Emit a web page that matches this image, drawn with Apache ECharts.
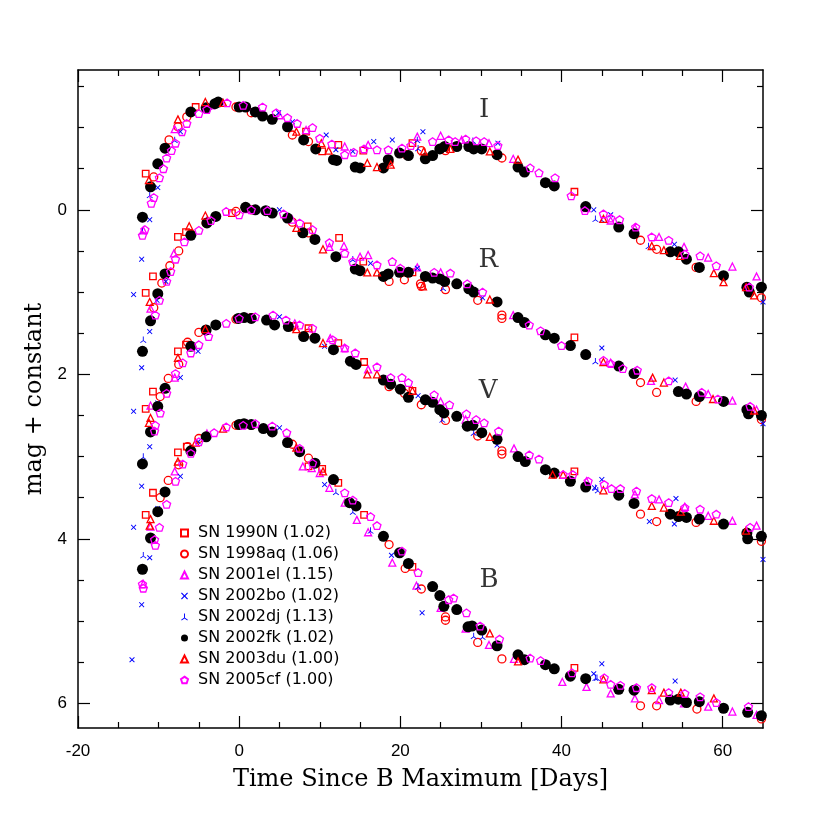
<!DOCTYPE html>
<html>
<head>
<meta charset="utf-8">
<script src="https://cdn.jsdelivr.net/npm/echarts@6/dist/echarts.min.js"></script>
<style>
html, body { margin: 0; padding: 0; background: #fff; }
#chart { width: 830px; height: 830px; }
</style>
</head>
<body>
<div id="chart"></div>
<script>
// [days since B max, mag + constant]
var sn1990N_I = [[-11.6,-0.44],[-5.4,-1.25],[8.3,-0.95],[10.3,-0.71],[12.3,-0.79],[15.4,-0.72],[21.5,-0.81],[41.6,-0.22]];
var sn1990N_R = [[-11.6,1.01],[-10.7,0.81],[-7.6,0.33],[-6.6,0.27],[-0.9,0.04],[8.5,0.2],[12.4,0.34],[15.4,0.63],[21.5,0.76],[41.6,1.55]];
var sn1990N_V = [[-11.6,2.42],[-10.7,2.21],[-7.6,1.72],[-6.6,1.64],[6.6,1.41],[8.6,1.44],[12.3,1.62],[15.5,1.85],[21.5,2.2],[41.6,3.18]];
var sn1990N_B = [[-11.6,3.71],[-10.7,3.44],[-7.6,2.95],[-6.5,2.88],[8.6,3.12],[10.3,3.15],[12.3,3.32],[15.5,3.71],[21.5,4.34],[41.6,5.57]];

var sn1998aq_I = [[-10.6,-0.4],[-8.7,-0.85],[-7.6,-1.01],[-6.5,-1.13],[-0.4,-1.25],[1.5,-1.18],[6.6,-0.91],[8.6,-0.83],[18.6,-0.58],[20.7,-0.67],[22.6,-0.72],[25.6,-0.72],[32.6,-0.63],[49.8,0.37],[51.8,0.48],[56.7,0.70],[64.8,1.07]];
var sn1998aq_R = [[-10.6,1.19],[-9.6,0.89],[-8.6,0.68],[-7.5,0.5],[-6,0.29],[-4.1,0.16],[-0.4,0.02],[1.5,0.0],[6.6,0.15],[8.6,0.28],[18.6,0.87],[20.5,0.85],[22.5,0.9],[22.6,0.93],[25.6,0.97],[29.6,1.1],[32.6,1.28],[32.6,1.32],[49.8,2.10],[51.8,2.22],[56.7,2.33],[64.8,2.55]];
var sn1998aq_V = [[-9.8,2.27],[-8.8,2.05],[-7.5,1.88],[-6.4,1.61],[-5,1.49],[-0.4,1.33],[1.5,1.31],[6.6,1.42],[8.6,1.5],[18.6,2.15],[20.5,2.23],[22.6,2.37],[25.6,2.56],[29.6,2.75],[32.6,2.93],[32.6,2.97],[49.8,3.70],[51.8,3.79],[56.7,3.80],[64.8,4.03]];
var sn1998aq_B = [[-9.8,3.5],[-8.8,3.29],[-7.5,3.1],[-6.4,2.88],[-5,2.78],[-0.4,2.62],[1.5,2.62],[6.6,2.85],[8.6,3.02],[18.6,4.07],[20.6,4.36],[22.6,4.61],[25.6,4.95],[25.6,4.99],[29.6,5.26],[32.6,5.46],[49.8,6.03],[51.8,6.03],[56.8,6.07],[64.8,6.19]];

var sn2001el_I = [[-11.9,0.25],[-8,-0.98],[-3.5,-1.27],[1,-1.25],[5,-1.15],[8.3,-0.97],[13.1,-0.77],[16,-0.79],[22.1,-0.89],[25,-0.9],[27.6,-0.85],[31,-0.81],[34,-0.62],[43.1,-0.02],[46.1,0.13],[49.1,0.22],[52.1,0.33],[55.2,0.45],[58.2,0.58],[61.2,0.69],[64.2,0.81]];
var sn2001el_R = [[-11,1.2],[-8.1,0.53],[-4,0.13],[1,-0.01],[6.6,0.12],[11.2,0.45],[13,0.44],[15,0.57],[16,0.55],[22.1,0.7],[25,0.76],[34,1.28],[43.1,1.75],[46.1,1.86],[49.1,1.97],[51.1,2.08],[55.4,2.15],[58.2,2.24],[61.2,2.32],[64.2,2.43]];
var sn2001el_V = [[-11,2.38],[-8,2.04],[-4,1.47],[1,1.31],[6.9,1.38],[11.3,1.56],[13.1,1.68],[16,1.94],[25,2.33],[28.1,2.55],[34.1,2.9],[43.1,3.30],[49.1,3.46],[52.1,3.52],[55.3,3.61],[58.2,3.72],[61.2,3.78],[64.2,3.84]];
var sn2001el_B = [[-11.9,4.55],[-11,3.85],[-8,3.18],[-4,2.72],[1,2.6],[7.9,3.12],[9,3.14],[10,3.2],[11.2,3.38],[13.1,3.56],[14.6,3.77],[16,3.92],[19,4.29],[22,4.57],[25,4.84],[28.1,5.09],[31,5.29],[34.1,5.46],[40.1,5.74],[43.1,5.80],[46.1,5.88],[49.1,5.94],[52.1,5.96],[55.2,6.00],[58.2,6.04],[61.2,6.10],[64.2,6.14]];

var sn2002bo_I = [[-13.1,1.03],[-12.1,0.60],[-11.1,0.12],[-10.1,-0.27],[-7.3,-0.95],[4.9,-1.18],[6.6,-1.07],[10.8,-0.91],[12,-0.73],[14.1,-0.71],[16.7,-0.83],[19,-0.85],[22.8,-0.95],[32.1,-0.81],[44,0.0],[46.1,0.06],[54,0.42],[54.1,0.52],[65,1.12]];
var sn2002bo_R = [[-13.1,2.45],[-12.1,1.92],[-11.1,1.48],[-10.2,1.1],[-9.1,0.87],[5,0.0],[16.3,0.65],[22.1,0.71],[30.2,1.07],[45,1.68],[54.1,2.07],[65,2.6]];
var sn2002bo_V = [[-13.1,3.86],[-12.1,3.36],[-11.1,2.88],[-10.1,2.35],[-7.3,2.04],[-5.1,1.72],[5,1.30],[10.6,1.66],[22.2,2.26],[32,2.86],[44.1,3.38],[45,3.28],[50.9,3.79],[54,3.82],[54.2,3.51],[65,4.25]];
var sn2002bo_B = [[-13.3,5.47],[-12.1,4.8],[-11.1,4.23],[-10.1,3.63],[-7.3,3.24],[-5.1,2.82],[5,2.65],[10.6,3.34],[18.9,4.2],[22.7,4.9],[44,5.64],[45,5.52],[54.1,5.73]];

var sn2002dj_I = [[-12,0.26],[-11.1,-0.18],[-8,-0.85],[22.1,-0.85],[22.2,-0.75],[29,-0.84],[44.2,0.11],[45,0.12],[50.8,0.44]];
var sn2002dj_R = [[-11.9,1.58],[14.1,0.6],[25.3,0.95],[44.2,1.84]];
var sn2002dj_V = [[-11.9,3.0],[25.2,2.55],[29.1,2.71],[44.2,3.38],[44.5,3.41]];
var sn2002dj_B = [[-11.9,4.2],[12,3.43],[14.1,3.67],[16.3,3.9],[22.2,4.58],[29.1,5.18],[30.2,5.19],[44.2,5.69],[44.4,5.69]];

var sn2002fk_I = [[-12,0.09],[-11,-0.28],[-10.1,-0.56],[-9.2,-0.75],[-6,-1.19],[-4.1,-1.24],[-3,-1.29],[-2.6,-1.31],[0,-1.25],[0.8,-1.25],[2,-1.19],[2.9,-1.14],[4.1,-1.10],[6,-1.01],[8,-0.85],[9.5,-0.74],[11.7,-0.61],[12.1,-0.60],[14.4,-0.52],[15,-0.51],[17.9,-0.51],[18.5,-0.61],[19.9,-0.69],[21,-0.66],[23.1,-0.62],[24,-0.66],[24.9,-0.74],[25.5,-0.77],[27,-0.77],[28.5,-0.77],[29.1,-0.74],[30.1,-0.74],[32,-0.67],[34.6,-0.52],[35.4,-0.46],[38,-0.33],[39.1,-0.29],[43,-0.04],[47.1,0.21],[49,0.29],[53.5,0.51],[54.5,0.51],[55.5,0.60],[57.1,0.70],[60.1,0.80],[63,0.94],[63.3,1.0],[64.8,0.94]];
var sn2002fk_R = [[-12,1.72],[-11,1.35],[-10.1,1.02],[-9.2,0.78],[-6,0.31],[-4,0.16],[-2.9,0.08],[0.8,-0.03],[2,0.0],[3.3,0.01],[4.1,0.04],[6,0.10],[7.9,0.28],[9.4,0.36],[12,0.57],[14.4,0.72],[15,0.74],[17.9,0.81],[18.5,0.78],[19.9,0.76],[21,0.76],[23.1,0.81],[24,0.83],[24.9,0.84],[25.5,0.87],[27,0.90],[28.5,0.96],[29.1,1.0],[32,1.12],[34.6,1.31],[35.4,1.37],[38,1.52],[39.1,1.56],[41.1,1.65],[43,1.76],[47.1,1.90],[49,1.99],[54.5,2.21],[55.5,2.24],[57.1,2.27],[60.1,2.33],[63,2.43],[63.2,2.48],[64.8,2.50]];
var sn2002fk_V = [[-12,3.09],[-11,2.70],[-10.1,2.39],[-9.2,2.17],[-6,1.66],[-4.1,1.46],[-2.9,1.40],[-0.1,1.32],[0.6,1.31],[1.5,1.32],[3.4,1.34],[4.4,1.40],[6.1,1.42],[8,1.54],[9.4,1.56],[11.7,1.70],[13.8,1.84],[14.5,1.88],[17.9,2.07],[18.8,2.12],[20,2.18],[21,2.28],[23.1,2.31],[24,2.34],[24.9,2.43],[25.4,2.47],[27,2.51],[28.3,2.63],[29,2.62],[30.1,2.71],[32,2.79],[34.6,3.00],[35.5,3.06],[38,3.16],[39.1,3.20],[41.1,3.30],[43,3.37],[47.1,3.47],[49,3.57],[53.5,3.70],[54.5,3.73],[55.5,3.74],[57.1,3.76],[60.1,3.82],[63,3.93],[63.1,4.0],[64.8,3.97]];
var sn2002fk_B = [[-12,4.37],[-11,3.99],[-10.1,3.67],[-9.2,3.43],[-6,2.93],[-4.1,2.76],[0,2.61],[0.6,2.60],[1.5,2.61],[3,2.66],[4.1,2.70],[6,2.83],[7.5,2.94],[9.4,3.08],[11.7,3.28],[13.7,3.56],[14.5,3.60],[17.9,3.97],[19.9,4.17],[21,4.30],[24,4.58],[24.9,4.69],[25.4,4.82],[27,4.86],[28.4,5.07],[28.9,5.06],[30.1,5.11],[32,5.30],[34.6,5.41],[35.4,5.47],[38,5.53],[39.1,5.58],[41.1,5.67],[43,5.70],[47.1,5.83],[49,5.84],[53.5,5.96],[54.5,5.95],[55.5,5.99],[57.1,5.98],[60.1,6.06],[63.1,6.11],[64.8,6.15]];

var sn2003du_I = [[-11.2,-0.36],[-7.6,-1.1],[-4.2,-1.31],[-2,-1.3],[7.1,-0.95],[10.2,-0.81],[11.1,-0.72],[15.9,-0.57],[17.1,-0.52],[18.8,-0.55],[22.9,-0.71],[26.2,-0.74],[31.1,-0.71],[34.6,-0.61],[45.2,0.11],[51.2,0.44],[52.7,0.49],[54.7,0.56],[58.9,0.77],[60.1,0.88],[62.9,0.94],[63.9,1.04]];
var sn2003du_R = [[-11.1,1.12],[-6.2,0.2],[-4.2,0.07],[7.1,0.22],[10.4,0.48],[15.9,0.76],[17.1,0.76],[22.8,0.93],[31.1,1.09],[45.2,1.85],[51.3,2.04],[52.7,2.10],[58.8,2.30],[63.9,2.44]];
var sn2003du_V = [[-11.2,2.59],[-11,2.53],[-7.6,1.8],[-4.2,1.45],[7.1,1.45],[10.4,1.62],[15.9,2.0],[17.1,2.0],[21.5,2.2],[31.1,2.76],[38.9,3.22],[40.2,3.22],[45.2,3.41],[51.2,3.60],[52.7,3.62],[54.8,3.67],[58.9,3.78],[62.9,3.90]];
var sn2003du_B = [[-11.1,3.84],[-11,3.76],[-7.6,3.06],[-5.4,2.83],[-2,2.66],[7.1,2.89],[10.4,3.18],[31.1,5.15],[34.6,5.49],[45.2,5.71],[51.2,5.84],[52.7,5.87],[54.8,5.87],[58.9,5.94]];

var sn2005cf_I = [[-12,0.31],[-11.7,0.24],[-10.9,-0.08],[-10.6,-0.15],[-9.9,-0.39],[-9.4,-0.5],[-9,-0.63],[-8.4,-0.72],[-7.9,-0.81],[-7.1,-0.95],[-6.5,-1.05],[-5,-1.17],[-4,-1.22],[-1.5,-1.3],[0.5,-1.27],[2.9,-1.25],[4.6,-1.18],[6,-1.12],[7.2,-1.05],[9.1,-1.0],[10,-0.87],[11.5,-0.8],[13.1,-0.67],[14.2,-0.7],[15.5,-0.74],[17.1,-0.73],[18.5,-0.73],[20.2,-0.75],[21.3,-0.78],[24,-0.83],[26,-0.85],[26.8,-0.83],[28.1,-0.86],[29.4,-0.84],[30.4,-0.83],[32.1,-0.78],[36.1,-0.51],[37.2,-0.45],[39.2,-0.39],[41.2,-0.17],[42.9,0.01],[45.2,0.05],[46.1,0.10],[47.2,0.12],[49.2,0.21],[51.2,0.33],[53.3,0.37],[55.3,0.54],[57.2,0.56],[59.2,0.68],[63.3,0.94]];
var sn2005cf_R = [[-10.4,1.28],[-9.9,1.1],[-9,0.87],[-8.5,0.75],[-7.9,0.6],[-6.8,0.39],[-5,0.25],[-3.5,0.13],[-1.6,0.02],[0,0.06],[1.5,0.0],[3.5,0.01],[5.5,0.05],[7.5,0.16],[9.1,0.24],[11.2,0.4],[13.1,0.53],[14.1,0.63],[17.1,0.67],[19,0.63],[20,0.71],[24.2,0.76],[26.2,0.77],[28.3,0.90],[30.2,1.0],[36,1.40],[37.4,1.47],[40,1.65],[45.2,1.83],[46.1,1.87],[47.6,1.93],[49.4,1.95],[53.3,2.08],[57.4,2.22],[59.4,2.30],[63.4,2.39]];
var sn2005cf_V = [[-10.5,2.69],[-10.4,2.62],[-9.8,2.47],[-9,2.23],[-7.9,1.99],[-7,1.86],[-6,1.74],[-5,1.64],[-3.8,1.54],[-1.6,1.38],[0,1.32],[2,1.30],[4.2,1.28],[5.8,1.34],[7.5,1.40],[9.1,1.44],[11.6,1.58],[13.1,1.68],[14.4,1.74],[17.1,1.91],[18.8,2.04],[20.2,2.04],[21,2.1],[24.2,2.25],[26.1,2.37],[28.2,2.48],[29.4,2.55],[30.4,2.59],[32.2,2.69],[36,2.98],[37.2,3.03],[40.2,3.22],[41.4,3.22],[43.3,3.30],[45.3,3.34],[46.2,3.39],[47.3,3.39],[49.3,3.42],[51.2,3.51],[53.3,3.56],[55.3,3.62],[57.2,3.64],[59.2,3.70],[63.4,3.86]];
var sn2005cf_B = [[-12,4.55],[-11.9,4.6],[-10.5,4.01],[-10.4,4.08],[-9.9,3.86],[-9,3.58],[-7.9,3.30],[-7,3.09],[-6,2.96],[-5,2.82],[-3.1,2.71],[-1.6,2.64],[0.5,2.62],[2,2.6],[4.1,2.63],[5.9,2.71],[7.5,2.9],[9.1,3.08],[13.1,3.44],[14.1,3.53],[16.3,3.73],[17.1,3.84],[20.2,4.15],[22.2,4.41],[26,4.74],[26.6,4.72],[28.2,4.90],[29.9,5.06],[32.3,5.22],[36.1,5.45],[37.4,5.48],[41.3,5.63],[45.3,5.69],[46.1,5.77],[47.3,5.78],[49.3,5.81],[51.2,5.81],[53.3,5.87],[55.3,5.88],[57.2,5.92],[59.2,5.99],[63.2,6.04]];

var snNames = ["SN 1990N (1.02)", "SN 1998aq (1.06)", "SN 2001el (1.15)", "SN 2002bo (1.02)",
  "SN 2002dj (1.13)", "SN 2002fk (1.02)", "SN 2003du (1.00)", "SN 2005cf (1.00)"];
var bandLabels = [["I", 30.4, -1.215], ["R", 30.9, 0.61], ["V", 30.9, 2.21], ["B", 31.0, 4.5]];
var xMajor = [-20, 0, 20, 40, 60];
var xMinor = [-15, -10, -5, 5, 10, 15, 25, 30, 35, 45, 50, 55];
var yMajor = [0, 2, 4, 6];
var yMinor = [-1.5, -1, -0.5, 0.5, 1, 1.5, 2.5, 3, 3.5, 4.5, 5, 5.5];

var chart = echarts.init(document.getElementById("chart"));

var RED = "#ff0000", MAG = "#ff00ff", BLUE = "#0000ff";
var PENTAGON = "path://M5,0L10,3.6L8.1,9.5L1.9,9.5L0,3.6Z";
var CROSS = "path://M0,1.2L1.2,0L5,3.8L8.8,0L10,1.2L6.2,5L10,8.8L8.8,10L5,6.2L1.2,10L0,8.8L3.8,5Z";
var TRISTAR = "path://M4.3,0H5.7V6.2L10,9.3L9.2,10.4L5,7.3L0.8,10.4L0,9.3L4.3,6.2Z";

function allBands(i, r, v, b) {
  return [].concat(i, r, v, b);
}

function openStyle(c) {
  return { color: "rgba(0,0,0,0)", borderColor: c, borderWidth: 1.3, opacity: 1 };
}

var snData = [
  allBands(sn1990N_I, sn1990N_R, sn1990N_V, sn1990N_B),
  allBands(sn1998aq_I, sn1998aq_R, sn1998aq_V, sn1998aq_B),
  allBands(sn2001el_I, sn2001el_R, sn2001el_V, sn2001el_B),
  allBands(sn2002bo_I, sn2002bo_R, sn2002bo_V, sn2002bo_B),
  allBands(sn2002dj_I, sn2002dj_R, sn2002dj_V, sn2002dj_B),
  allBands(sn2002fk_I, sn2002fk_R, sn2002fk_V, sn2002fk_B),
  allBands(sn2003du_I, sn2003du_R, sn2003du_V, sn2003du_B),
  allBands(sn2005cf_I, sn2005cf_R, sn2005cf_V, sn2005cf_B)
];
var snSymbol = ["rect", "circle", "triangle", CROSS, TRISTAR, "circle", "triangle", PENTAGON];
var snSize = [6.5, 8, 7, 5.5, 6.5, 11, 7, 8];
var snStyle = [openStyle(RED), openStyle(RED), openStyle(MAG), { color: BLUE, opacity: 1 },
  { color: BLUE, opacity: 1 }, { color: "#000", opacity: 1 }, openStyle(RED), openStyle(MAG)];

var series = snNames.map(function (name, k) {
  return {
    name: name,
    type: "scatter",
    symbol: snSymbol[k],
    symbolSize: snSize[k],
    symbolKeepAspect: true,
    itemStyle: snStyle[k],
    data: snData[k]
  };
});

series.push({
  name: "bands",
  type: "scatter",
  symbolSize: 0,
  silent: true,
  label: {
    show: true,
    position: "inside",
    formatter: function (p) { return p.data[0]; },
    fontFamily: "DejaVu Serif",
    fontSize: 26,
    color: "#000"
  },
  encode: { x: 1, y: 2 },
  data: bandLabels
});

var frameLine = { show: true, onZero: false, lineStyle: { color: "#000", width: 1.5 } };
var noLine = { show: false, onZero: false };
var tickStyle = { color: "#000", width: 1.2 };

function xAxisDef(pos, values, len, main) {
  return {
    type: "value", min: -20, max: 65, position: pos,
    axisLine: main ? frameLine : noLine,
    axisTick: { show: true, inside: true, length: len, customValues: values, lineStyle: tickStyle },
    axisLabel: (main && pos === "bottom") ? {
      show: true, customValues: xMajor, margin: 15, color: "#000",
      fontFamily: "Liberation Sans", fontSize: 17
    } : { show: false },
    splitLine: { show: false }
  };
}

function yAxisDef(pos, values, len, main) {
  return {
    type: "value", min: -1.7, max: 6.3, inverse: true, position: pos,
    axisLine: main ? frameLine : noLine,
    axisTick: { show: true, inside: true, length: len, customValues: values, lineStyle: tickStyle },
    axisLabel: (main && pos === "left") ? {
      show: true, customValues: yMajor, margin: 11, color: "#000",
      fontFamily: "Liberation Sans", fontSize: 17
    } : { show: false },
    splitLine: { show: false }
  };
}

var xs = [xAxisDef("bottom", xMajor, 12, true), xAxisDef("bottom", xMinor, 6, false),
  xAxisDef("top", xMajor, 12, true), xAxisDef("top", xMinor, 6, false)];
xs[0].name = "Time Since B Maximum [Days]";
xs[0].nameLocation = "middle";
xs[0].nameGap = 40;
xs[0].nameTextStyle = { fontFamily: "DejaVu Serif", fontSize: 24, color: "#000" };

var ys = [yAxisDef("left", yMajor, 12, true), yAxisDef("left", yMinor, 6, false),
  yAxisDef("right", yMajor, 12, true), yAxisDef("right", yMinor, 6, false)];
ys[0].name = "mag + constant";
ys[0].nameLocation = "middle";
ys[0].nameGap = 28;
ys[0].nameTextStyle = { fontFamily: "DejaVu Serif", fontSize: 24, color: "#000" };

var option = {
  animation: false,
  backgroundColor: "#fff",
  grid: { left: 78, right: 67, top: 70, bottom: 102 },
  legend: {
    data: snNames,
    orient: "vertical",
    left: 180,
    top: 525,
    padding: 0,
    itemWidth: 7,
    itemHeight: 7,
    itemGap: 5,
    selectedMode: false,
    textStyle: { fontFamily: "DejaVu Sans", fontSize: 16, color: "#000", lineHeight: 16, padding: [0, 0, 0, 5] }
  },
  xAxis: xs,
  yAxis: ys,
  series: series
};
chart.setOption(option);
</script>
</body>
</html>
